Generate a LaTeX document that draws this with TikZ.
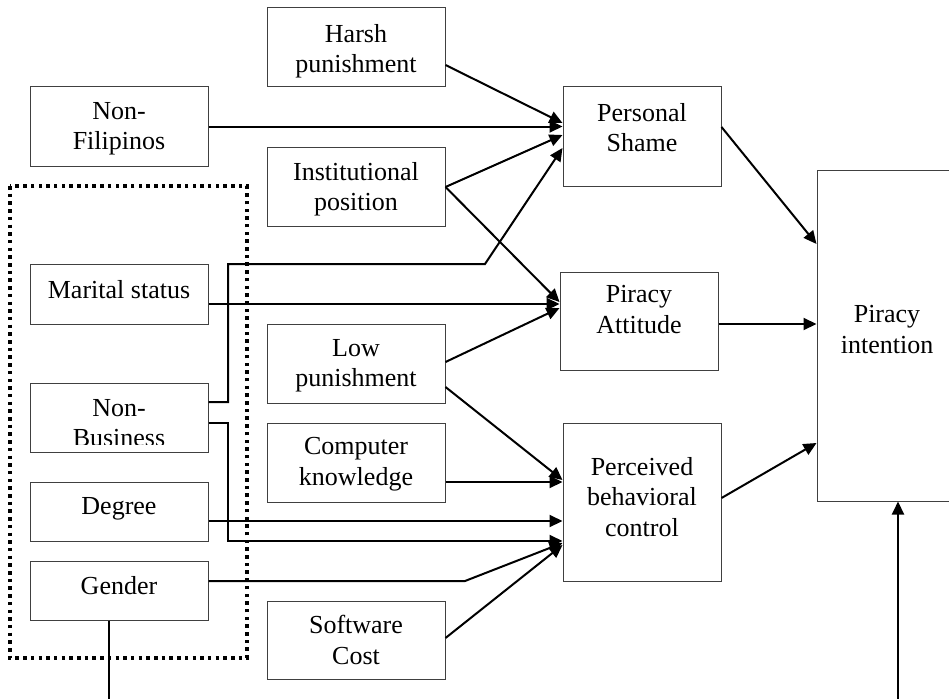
\documentclass[tikz,border=0pt]{standalone}
\usepackage{fontspec}
\setmainfont{Liberation Serif}
\usetikzlibrary{arrows.meta}
\begin{document}
\begin{tikzpicture}[x=1pt,y=-1pt,
  box/.style={draw=black!75, line width=1pt, inner sep=0pt,
    minimum width=178pt, minimum height=79pt},
  rbox/.style={box, minimum width=158pt},
  lbl/.style={anchor=north, inner sep=0pt, align=center,
    font=\fontsize{26}{30.3}\selectfont},
  link/.style={line width=2pt, black},
  arr/.style={link, -{Triangle[length=13pt,width=12pt]}},
  group/.style={line width=3.5pt, dash pattern=on 3.5pt off 4.2pt},
]
\clip (0,0) rectangle (949,698);

% demographic boxes
\node[box] (nf) at (119,126.5) {};
\node[box, minimum height=60pt] (ms) at (119,294) {};
\node[box, minimum height=69pt] (nb) at (119,417.5) {};
\node[box, minimum height=59pt] (dg) at (119,511.5) {};
\node[box, minimum height=59pt] (gd) at (119,590.5) {};

% antecedent boxes
\node[box] (hp) at (356,47.5) {};
\node[box] (ip) at (356,186.5) {};
\node[box] (lp) at (356,363.5) {};
\node[box] (ck) at (356,462.5) {};
\node[box, minimum height=78pt] (sc) at (356,640) {};

% mediators and outcome
\node[rbox, minimum height=99pt] (ps) at (642,136.5) {};
\node[rbox, minimum height=98pt] (pa) at (639,321) {};
\node[rbox, minimum height=158pt] (pv) at (642,502) {};
\node[box, minimum width=140pt, minimum height=331pt] (pi) at (887,335.5) {};

% labels
\node[lbl] (nf-t) at (119,102.4) {Non-\\Filipinos};
\node[lbl] (ms-t) at (119,280.4) {Marital status};
\begin{scope}
  \clip (30,383) rectangle (208,444);
  \node[lbl] (nb-t) at (119,398.8) {Non-\\Business};
\end{scope}
\node[lbl] (dg-t) at (119,497.4) {Degree};
\node[lbl] (gd-t) at (119,576.4) {Gender};

\node[lbl] (hp-t) at (356,24.4) {Harsh\\punishment};
\node[lbl] (ip-t) at (356,162.4) {Institutional\\position};
\node[lbl] (lp-t) at (356,338.8) {Low\\punishment};
\node[lbl] (ck-t) at (356,437.4) {Computer\\knowledge};
\node[lbl] (sc-t) at (356,615.4) {Software\\Cost};

\node[lbl] (ps-t) at (642,103.4) {Personal\\Shame};
\node[lbl] (pa-t) at (639,285.4) {Piracy\\Attitude};
\node[lbl] (pv-t) at (642,457.4) {Perceived\\behavioral\\control};
\node[lbl] (pi-t) at (887,305.4) {Piracy\\intention};

% grouping frame around the demographic variables
\draw[group] (10,186) rectangle (247,658);

% paths into Personal Shame
\draw[arr] (hp.east |- 0,65) -- (ps.west |- 0,123);
\draw[arr] (nf.east) -- (ps.west |- nf.east);
\draw[arr] (ip.east |- 0,187) -- (ps.west |- 0,135);
\draw[arr] (nb.east |- 0,402) -- (228,402) -- (228,264) -- (485,264)
  -- (ps.west |- 0,148);

% paths into Piracy Attitude
\draw[arr] (ip.east |- 0,187) -- (pa.west |- 0,302);
\draw[arr] (ms.east |- 0,304) -- (pa.west |- 0,304);
\draw[arr] (lp.east |- 0,362) -- (pa.west |- 0,308);

% paths into Perceived behavioral control
\draw[arr] (lp.east |- 0,387) -- (pv.west |- 0,480);
\draw[arr] (ck.east |- 0,482) -- (pv.west |- 0,482);
\draw[arr] (dg.east |- 0,521) -- (pv.west |- 0,521);
\draw[arr] (nb.east |- 0,423) -- (228,423) -- (228,541) -- (pv.west |- 0,541);
\draw[arr] (gd.east |- 0,581) -- (465,581) -- (pv.west |- 0,543);
\draw[arr] (sc.east |- 0,638) -- (pv.west |- 0,545);

% paths into Piracy intention
\draw[arr] (ps.east |- 0,127) -- (pi.west |- 0,244);
\draw[arr] (pa.east |- 0,324) -- (pi.west |- 0,324);
\draw[arr] (pv.east |- 0,498) -- (pi.west |- 0,443);

% lines leaving the lower edge
\coordinate (gout) at (109,702);
\coordinate (pin) at (898,702);
\draw[link, line width=1.5pt] (gd.south -| gout) -- (gout);
\draw[arr] (pin) -- (pi.south -| pin);
\end{tikzpicture}
\end{document}
